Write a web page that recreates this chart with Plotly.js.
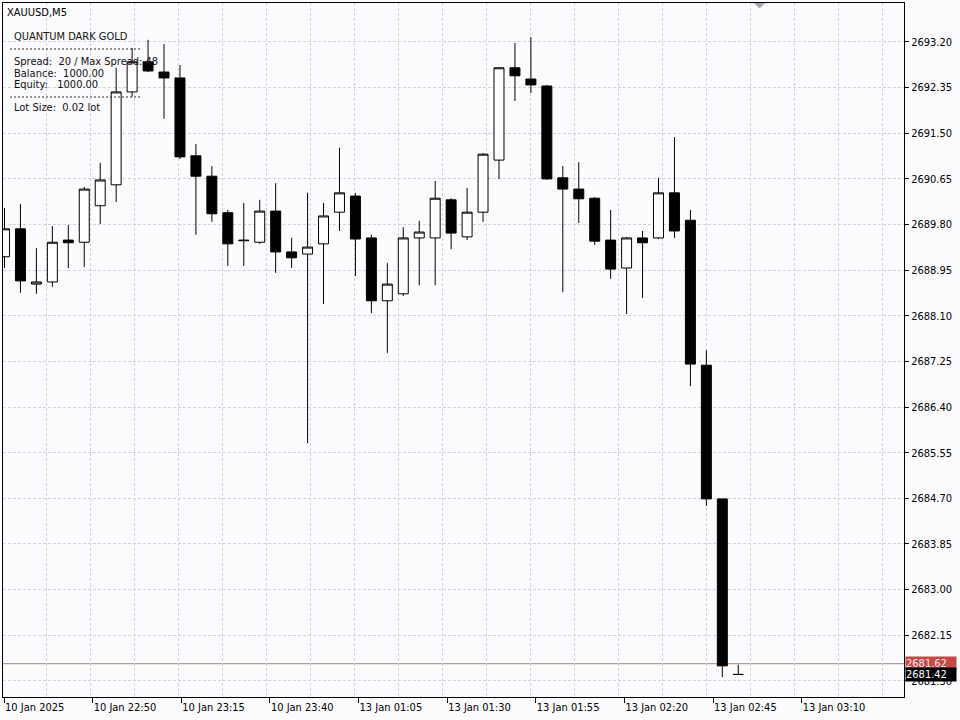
<!DOCTYPE html>
<html>
<head>
<meta charset="utf-8">
<script src="https://cdn.plot.ly/plotly-3.0.1.min.js"></script>
<style>
  html, body { margin: 0; padding: 0; background: #fcfcfe; }
  #chart { width: 960px; height: 720px; }
</style>
</head>
<body>
<div id="chart"></div>
<script>
// ---- Data (XAUUSD M5) ----
const barIndex = [0,1,2,3,4,5,6,7,8,9,10,11,12,13,14,15,16,17,18,19,20,21,22,23,24,25,26,27,28,29,30,31,32,33,34,35,36,37,38,39,40,41,42,43,44,45,46];
const opens  = [2689.20,2689.72,2688.69,2688.73,2689.51,2689.47,2690.15,2690.54,2692.27,2692.83,2692.64,2692.53,2691.08,2690.70,2690.02,2689.51,2689.47,2690.05,2689.29,2689.25,2689.44,2690.03,2690.33,2689.55,2688.38,2688.51,2689.55,2689.55,2690.26,2689.57,2690.03,2691.00,2692.72,2692.51,2692.38,2690.67,2690.46,2690.29,2689.51,2688.99,2689.55,2689.55,2690.39,2689.88,2687.18,2684.69,2681.42];
const highs  = [2690.11,2690.18,2689.36,2689.77,2689.79,2690.50,2690.95,2692.72,2693.09,2693.24,2693.16,2692.77,2691.30,2690.89,2690.07,2690.20,2690.26,2690.57,2689.55,2690.39,2690.20,2691.23,2690.39,2689.61,2689.08,2689.75,2689.87,2690.61,2690.29,2690.48,2691.13,2692.73,2693.18,2693.29,2692.40,2690.89,2690.96,2690.31,2690.07,2689.57,2689.68,2690.67,2691.43,2690.07,2687.46,2684.69,2681.60];
const lows   = [2688.99,2688.53,2688.51,2688.64,2688.99,2689.01,2689.81,2690.22,2692.18,2692.64,2691.77,2691.02,2689.61,2689.85,2689.03,2689.03,2689.44,2688.90,2688.99,2685.73,2688.32,2689.68,2688.84,2688.15,2687.41,2688.47,2688.67,2688.67,2689.34,2689.51,2689.85,2690.65,2692.10,2692.25,2690.63,2688.54,2689.83,2689.42,2688.79,2688.13,2688.43,2689.53,2689.55,2686.79,2684.56,2681.37,2681.42];
const closes = [2689.72,2688.75,2688.73,2689.47,2689.46,2690.46,2690.63,2692.27,2692.83,2692.66,2692.53,2691.06,2690.70,2690.00,2689.44,2689.50,2690.05,2689.29,2689.18,2689.38,2689.96,2690.39,2689.53,2688.38,2688.69,2689.55,2689.66,2690.29,2689.64,2690.03,2691.11,2692.72,2692.57,2692.40,2690.65,2690.46,2690.28,2689.49,2688.97,2689.55,2689.46,2690.39,2689.68,2687.20,2684.69,2681.58,2681.42];

const timeLabels = ["10 Jan 2025","10 Jan 22:50","10 Jan 23:15","10 Jan 23:40","13 Jan 01:05","13 Jan 01:30","13 Jan 01:55","13 Jan 02:20","13 Jan 02:45","13 Jan 03:10"];

const askPrice = 2681.62;
const bidPrice = 2681.42;

const symbolLabel = "XAUUSD,M5";
const panelTitle = "QUANTUM DARK GOLD";
const panelLines = ["Spread:\u00a0\u00a020 / Max Spread: 48", "Balance:\u00a0 1000.00", "Equity:\u00a0\u00a0 1000.00"];
const lotLine = "Lot Size:\u00a0\u00a00.02 lot";

// ---- Layout geometry ----
const W = 960, H = 720;
const M = {l: 3, r: 56, t: 3, b: 23};
const PW = W - M.l - M.r, PH = H - M.t - M.b;
const px = x => (x - M.l) / PW;           // pixel -> paper x
const py = y => 1 - (y - M.t) / PH;       // pixel -> paper y

const xRange = [-0.094, 56.39];
const yRange = [2681.00, 2693.926];
const labelStep = 5.556, labelStart = -0.03;
const tickVals = timeLabels.map((_, i) => labelStart + i * labelStep);

const FONT = 'Tahoma, "DejaVu Sans Condensed", "Liberation Sans", sans-serif';
const GRID = '#d3d3de';

const candles = {
  type: 'candlestick',
  x: barIndex, open: opens, high: highs, low: lows, close: closes,
  increasing: {line: {color: '#000000', width: 1}, fillcolor: '#ffffff'},
  decreasing: {line: {color: '#000000', width: 1}, fillcolor: '#000000'},
  whiskerwidth: 0,
  hoverinfo: 'skip',
  showlegend: false,
  xaxis: 'x', yaxis: 'y'
};

// invisible helper trace so the grid-only axis is drawn
const gridHelper = {
  type: 'scatter', x: [xRange[0]], y: [yRange[0]], mode: 'markers',
  marker: {opacity: 0}, hoverinfo: 'skip', showlegend: false,
  xaxis: 'x2', yaxis: 'y'
};

const ann = [];
ann.push({xref: 'paper', yref: 'paper', x: px(5), y: py(12), xanchor: 'left', yanchor: 'middle',
  text: symbolLabel, showarrow: false, font: {family: FONT, size: 11, color: '#000'}});
ann.push({xref: 'paper', yref: 'paper', x: px(12), y: py(37), xanchor: 'left', yanchor: 'middle',
  text: panelTitle, showarrow: false, font: {family: FONT, size: 11, color: '#101010'}});
panelLines.forEach((t, i) => ann.push({xref: 'paper', yref: 'paper', x: px(12), y: py(61 + 12 * i),
  xanchor: 'left', yanchor: 'middle', text: t, showarrow: false, font: {family: FONT, size: 11, color: '#101010'}}));
ann.push({xref: 'paper', yref: 'paper', x: px(12), y: py(108), xanchor: 'left', yanchor: 'middle',
  text: lotLine, showarrow: false, font: {family: FONT, size: 11, color: '#101010'}});
// price tags on the right axis
ann.push({xref: 'paper', yref: 'y', x: px(905), y: askPrice, xanchor: 'left', yanchor: 'middle',
  text: askPrice.toFixed(2) + '\u00a0\u00a0\u00a0', showarrow: false, bgcolor: '#c44848', borderpad: 0,
  font: {family: FONT, size: 11, color: '#ffe8e8'}, align: 'left', width: 50});
ann.push({xref: 'paper', yref: 'y', x: px(905), y: bidPrice, xanchor: 'left', yanchor: 'middle',
  text: bidPrice.toFixed(2) + '\u00a0\u00a0\u00a0', showarrow: false, bgcolor: '#000000', borderpad: 0,
  font: {family: FONT, size: 11, color: '#ffffff'}, align: 'left', width: 50});

const shapes = [
  // ask line
  {type: 'line', xref: 'paper', yref: 'y', x0: 0, x1: 1, y0: askPrice, y1: askPrice,
   line: {color: '#a8866a', width: 1}, layer: 'below'},
  // panel separators
  {type: 'line', xref: 'paper', yref: 'paper', x0: px(10), x1: px(142), y0: py(49), y1: py(49),
   line: {color: '#303030', width: 1, dash: '2px,2px'}},
  {type: 'line', xref: 'paper', yref: 'paper', x0: px(10), x1: px(142), y0: py(97), y1: py(97),
   line: {color: '#303030', width: 1, dash: '2px,2px'}},
  // chart shift marker
  {type: 'path', xref: 'paper', yref: 'paper',
   path: `M ${px(754)} ${py(3)} L ${px(765)} ${py(3)} L ${px(759.5)} ${py(8.5)} Z`,
   fillcolor: '#a4a4ac', line: {width: 0}}
];

const layout = {
  width: W, height: H,
  margin: M,
  paper_bgcolor: '#fcfcfe',
  plot_bgcolor: '#fcfcfe',
  showlegend: false,
  hovermode: false,
  dragmode: false,
  boxgap: 0.375,
  boxgroupgap: 0,
  font: {family: FONT, size: 11, color: '#000'},
  xaxis: {
    range: xRange, type: 'linear', fixedrange: true,
    rangeslider: {visible: false},
    tickmode: 'array', tickvals: tickVals, ticktext: timeLabels,
    ticks: 'outside', ticklen: 5, tickcolor: '#000', tickwidth: 1,
    ticklabelposition: 'outside right',
    showgrid: false, zeroline: false,
    showline: true, linecolor: '#000', linewidth: 1, mirror: true,
    tickfont: {family: FONT, size: 11, color: '#000'}
  },
  xaxis2: {
    range: xRange, type: 'linear', overlaying: 'x', fixedrange: true,
    tick0: -0.138, dtick: 2.7586, tickmode: 'linear',
    showticklabels: false, ticks: '', showline: false, zeroline: false,
    showgrid: true, gridcolor: GRID, gridwidth: 1, griddash: '3px,2px',
    layer: 'below traces'
  },
  yaxis: {
    range: yRange, side: 'right', fixedrange: true,
    tickmode: 'linear', tick0: 2681.30, dtick: 0.85, tickformat: '.2f',
    ticks: 'outside', ticklen: 4, tickcolor: '#000',
    showgrid: true, gridcolor: GRID, gridwidth: 1, griddash: '3px,2px',
    zeroline: false,
    showline: true, linecolor: '#000', linewidth: 1, mirror: true,
    tickfont: {family: FONT, size: 11, color: '#000'}
  },
  annotations: ann,
  shapes: shapes
};

Plotly.newPlot('chart', [gridHelper, candles], layout, {staticPlot: true, displayModeBar: false});
</script>
</body>
</html>
